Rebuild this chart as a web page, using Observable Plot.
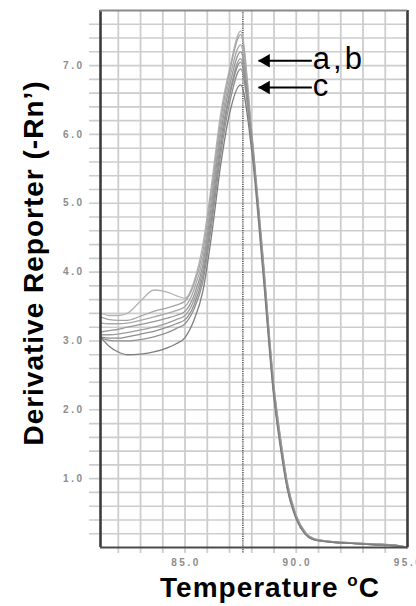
<!DOCTYPE html>
<html>
<head>
<meta charset="utf-8">
<script src="https://cdn.jsdelivr.net/npm/d3@7"></script>
<script src="https://cdn.jsdelivr.net/npm/@observablehq/plot@0.6"></script>
<style>
  html, body { margin: 0; padding: 0; background: #fff; }
  #chart { width: 416px; height: 606px; overflow: hidden; }
</style>
</head>
<body>
<div id="chart"></div>
<script>
// ---- data ----
const temps = [81.2, 81.6, 82.0, 82.4, 83.0, 83.6, 84.2, 84.6, 85.0, 85.4, 85.8, 86.2, 86.6, 87.0, 87.5,
               88.0, 88.5, 89.0, 89.3, 89.6, 90.0, 90.4, 90.8, 91.5, 92.5, 93.5, 94.5, 95.0];

const curve1 = [3.41, 3.37, 3.37, 3.40, 3.58, 3.74, 3.71, 3.66, 3.62, 3.86, 4.40, 5.30, 6.30, 6.95, 7.50,
                6.05, 4.25, 2.35, 1.58, 0.95, 0.47, 0.23, 0.13, 0.09, 0.07, 0.05, 0.03, 0.00];
const curve2 = [3.35, 3.31, 3.30, 3.30, 3.36, 3.43, 3.48, 3.52, 3.58, 3.82, 4.30, 5.20, 6.20, 6.90, 7.45,
                6.00, 4.22, 2.32, 1.56, 0.93, 0.46, 0.22, 0.13, 0.09, 0.07, 0.05, 0.03, 0.00];
const curve3 = [3.26, 3.25, 3.25, 3.26, 3.30, 3.35, 3.40, 3.44, 3.50, 3.74, 4.20, 5.10, 6.10, 6.80, 7.30,
                5.97, 4.20, 2.30, 1.55, 0.92, 0.45, 0.22, 0.12, 0.09, 0.07, 0.05, 0.03, 0.00];
const curve4 = [3.13, 3.15, 3.17, 3.20, 3.24, 3.28, 3.33, 3.37, 3.43, 3.66, 4.10, 5.00, 6.00, 6.70, 7.20,
                5.95, 4.18, 2.28, 1.53, 0.91, 0.45, 0.21, 0.12, 0.09, 0.06, 0.05, 0.03, 0.00];
const curve5 = [3.09, 3.09, 3.10, 3.12, 3.16, 3.20, 3.26, 3.31, 3.37, 3.59, 4.02, 4.90, 5.90, 6.60, 7.10,
                5.92, 4.15, 2.25, 1.50, 0.89, 0.44, 0.21, 0.12, 0.08, 0.06, 0.05, 0.03, 0.00];
const curve6 = [3.06, 3.04, 3.04, 3.06, 3.10, 3.14, 3.20, 3.25, 3.31, 3.52, 3.94, 4.80, 5.80, 6.55, 7.05,
                5.90, 4.12, 2.22, 1.48, 0.88, 0.43, 0.20, 0.12, 0.08, 0.06, 0.04, 0.03, 0.00];
const curve7 = [3.04, 3.01, 3.00, 3.00, 3.02, 3.06, 3.12, 3.18, 3.25, 3.46, 3.86, 4.70, 5.70, 6.45, 6.95,
                5.85, 4.08, 2.20, 1.46, 0.86, 0.42, 0.20, 0.11, 0.08, 0.06, 0.04, 0.02, 0.00];
const curve8 = [3.06, 2.92, 2.84, 2.80, 2.81, 2.84, 2.90, 2.96, 3.05, 3.30, 3.72, 4.55, 5.55, 6.30, 6.72,
                5.75, 4.00, 2.15, 1.42, 0.84, 0.41, 0.19, 0.11, 0.08, 0.06, 0.04, 0.02, 0.00];

const curves = [curve1, curve2, curve3, curve4, curve5, curve6, curve7, curve8];
const curveStrokes = ["#b4b4b4", "#a4a4a4", "#a8a8a8", "#989898", "#9c9c9c", "#8e8e8e", "#929292", "#7e7e7e"];

const xTickValues = [85, 90, 95];
const xTickLabels = ["85.0", "90.0", "95.0"];
const yTickValues = [1, 2, 3, 4, 5, 6, 7];
const yTickLabels = ["1.0", "2.0", "3.0", "4.0", "5.0", "6.0", "7.0"];
const gridX = [82, 83, 84, 85, 86, 87, 88, 89, 90, 91, 92, 93, 94];
const gridY = [0.2, 0.4, 0.6, 0.8, 1.0, 1.2, 1.4, 1.6, 1.8, 2.0, 2.2, 2.4, 2.6, 2.8, 3.0, 3.2, 3.4, 3.6, 3.8,
               4.0, 4.2, 4.4, 4.6, 4.8, 5.0, 5.2, 5.4, 5.6, 5.8, 6.0, 6.2, 6.4, 6.6, 6.8, 7.0, 7.2, 7.4, 7.6];
const xDomain = [81.2, 95];
const yDomain = [0, 7.8];
const peakTemp = [87.6];

const arrowLabels = ["a,b", "c"];
const arrowLevels = [7.07, 6.68];
const arrowTips = [88.3, 88.3];
const arrowTails = [90.7, 90.7];

const xTitle = "Temperature oC";
const yTitle = "Derivative Reporter (-Rn\u2019)";

// ---- build tables ----
const arrows = arrowLabels.map((label, i) => ({label, y: arrowLevels[i], tip: arrowTips[i], tail: arrowTails[i]}));
const curveMarks = curves.map((vals, k) =>
  Plot.line(temps.map((t, i) => ({t, v: vals[i]})), {
    x: "t", y: "v", stroke: curveStrokes[k], strokeWidth: 1.3, curve: "monotone-x"
  })
);

const tickFont = {fontSize: 10, fontWeight: "bold", fill: "#8c8c8c"};

const chart = Plot.plot({
  width: 416,
  height: 606,
  marginLeft: 100,
  marginRight: 9,
  marginTop: 10,
  marginBottom: 59,
  x: {domain: xDomain, axis: null},
  y: {domain: yDomain, axis: null},
  style: {fontFamily: "'Liberation Sans', Arial, sans-serif", background: "#fff"},
  marks: [
    Plot.ruleY(gridY, {stroke: "#cdcdcd", strokeWidth: 1.6, insetLeft: -11}),
    Plot.ruleX(gridX, {stroke: "#cdcdcd", strokeWidth: 1.8, insetBottom: -6}),
    Plot.ruleX(peakTemp, {stroke: "#5a5a5a", strokeWidth: 1.6, strokeDasharray: "1.2,1", insetBottom: -6}),
    ...curveMarks,
    Plot.ruleX([xDomain[0], xDomain[1]], {stroke: "#3c3c3c", strokeWidth: 2.6}),
    Plot.ruleY([yDomain[0]], {stroke: "#4a4a4a", strokeWidth: 2.2}),
    Plot.ruleY([yDomain[1]], {stroke: "#8a8a8a", strokeWidth: 2}),
    Plot.text(yTickValues, {x: xDomain[0], y: d => d, text: (d, i) => yTickLabels[i], textAnchor: "end", dx: -16, ...tickFont}),
    Plot.text(xTickValues, {x: d => d, y: yDomain[0], text: (d, i) => xTickLabels[i], dy: 15, dx: 1, ...tickFont}),
    Plot.link(arrows, {x1: "tail", x2: "tip", y1: "y", y2: "y", stroke: "#000", strokeWidth: 2}),
    Plot.dot(arrows, {x: "tip", y: "y", symbol: "triangle", rotate: -90, r: 5, fill: "#000", stroke: null, dx: 7.5}),
    Plot.text(arrows, {x: "tail", y: "y", text: "label", textAnchor: "start", lineAnchor: "middle", dx: 1, dy: -2, fontSize: 31, fill: "#000"}),
    Plot.text([yTitle], {frameAnchor: "left", textAnchor: "middle", lineAnchor: "middle", rotate: -90, dx: -66, dy: -16,
      fontSize: 28, fontWeight: "bold", fill: "#000"}),
    Plot.text([xTitle], {frameAnchor: "bottom", textAnchor: "middle", lineAnchor: "middle", dx: 16, dy: 41,
      fontSize: 28, fontWeight: "bold", fill: "#000"})
  ]
});

document.getElementById("chart").appendChild(chart);

const svg = d3.select(chart.tagName.toLowerCase() === "svg" ? chart : chart.querySelector("svg"));
svg.selectAll("text").each(function() {
  const t = this.textContent;
  if (t === "a,b" || t === "c") d3.select(this).style("letter-spacing", "3px");
  if (xTickLabels.includes(t) || yTickLabels.includes(t)) d3.select(this).style("letter-spacing", "2.5px");
  if (t === yTitle) d3.select(this).style("letter-spacing", "1px");
  if (t === xTitle) {
    const el = d3.select(this).style("letter-spacing", "1px");
    el.text(null);
    el.append("tspan").text("Temperature ");
    el.append("tspan").attr("font-size", 17).attr("dy", -11).text("o");
    el.append("tspan").attr("dy", 11).text("C");
  }
});
</script>
</body>
</html>
